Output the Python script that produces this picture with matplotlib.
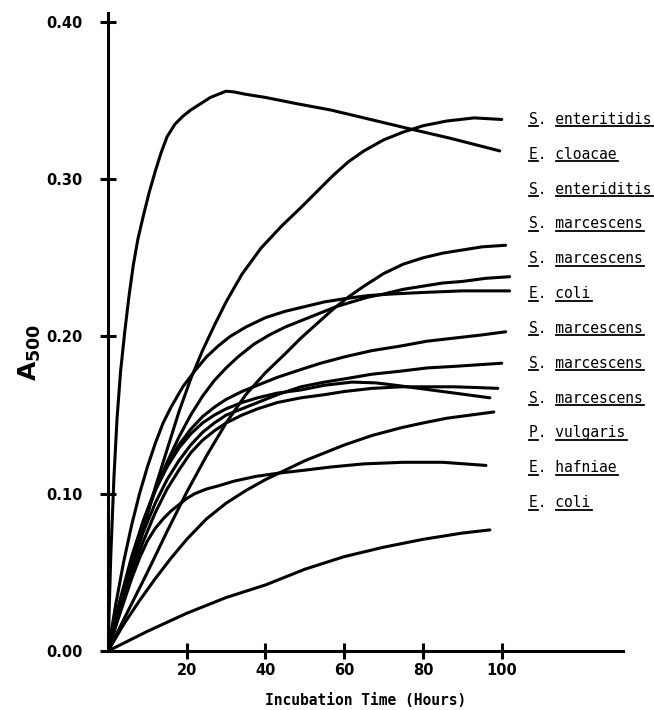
import matplotlib
matplotlib.use('Agg')
import matplotlib.pyplot as plt
from matplotlib.lines import Line2D

# growth curves (hours, A500)
t_peak = [0, 0.7, 1.5, 2.3, 3.2, 4.3, 5.3, 6.4, 7.6, 9, 10.5, 12, 13.5, 15, 17, 19, 21, 23.5,
          26, 28, 30, 32, 35, 40, 48, 56.6, 65, 75, 87, 99.5]
a_peak = [0, 0.06, 0.11, 0.148, 0.178, 0.204, 0.225, 0.245, 0.262, 0.277, 0.292, 0.305, 0.317,
          0.327, 0.335, 0.340, 0.344, 0.348, 0.352, 0.354, 0.356, 0.3555, 0.354, 0.352, 0.348,
          0.344, 0.339, 0.333, 0.326, 0.318]

t_cloacae = [0, 3, 6, 9, 12, 15, 18, 21, 24, 27, 30, 34, 38.8, 44, 49, 53, 57, 61, 65, 70, 75,
             80, 86, 93, 100]
a_cloacae = [0, 0.026, 0.052, 0.078, 0.104, 0.128, 0.152, 0.173, 0.191, 0.207, 0.222, 0.2395,
             0.256, 0.270, 0.282, 0.292, 0.302, 0.311, 0.318, 0.325, 0.330, 0.334, 0.337, 0.339,
             0.338]

t_c3 = [0, 5, 10, 15, 20, 25, 30, 35, 40, 45, 49, 53, 57, 61, 65, 70, 75, 80, 85, 90, 95, 101]
a_c3 = [0, 0.025, 0.050, 0.076, 0.101, 0.124, 0.145, 0.163, 0.177, 0.189, 0.199, 0.208, 0.217,
        0.225, 0.232, 0.240, 0.246, 0.250, 0.253, 0.255, 0.257, 0.258]

t_c4a = [0, 3, 6, 9, 12, 15, 18, 21, 24, 27, 30, 33, 37, 41, 45, 50, 54, 58, 62, 66, 70, 75, 80,
         85, 90, 96, 102]
a_c4a = [0, 0.03, 0.057, 0.081, 0.102, 0.120, 0.136, 0.150, 0.162, 0.172, 0.180, 0.187, 0.195,
         0.201, 0.206, 0.211, 0.215, 0.219, 0.222, 0.225, 0.227, 0.230, 0.232, 0.234, 0.235,
         0.237, 0.238]

t_c4b = [0, 2, 4, 6, 8, 10, 12, 14, 16, 19, 22, 25, 28, 31, 35, 40, 45, 50, 55, 60, 66, 72, 80,
         90, 102]
a_c4b = [0, 0.03, 0.057, 0.08, 0.10, 0.117, 0.132, 0.145, 0.155, 0.168, 0.178, 0.187, 0.194,
         0.200, 0.206, 0.212, 0.216, 0.219, 0.222, 0.224, 0.226, 0.227, 0.228, 0.229, 0.229]

t_c5 = [0, 3, 6, 9, 12, 15, 18, 21, 24, 27, 30, 34, 38, 43, 49, 54, 60, 67, 74.5, 81, 88, 95, 101]
a_c5 = [0, 0.03, 0.058, 0.083, 0.103, 0.118, 0.131, 0.141, 0.149, 0.155, 0.160, 0.165, 0.169,
        0.174, 0.179, 0.183, 0.187, 0.191, 0.194, 0.197, 0.199, 0.201, 0.203]

t_c6 = [0, 3, 6, 9, 12, 15, 18, 21, 24, 27, 30, 34, 38, 43, 49, 55, 60, 67, 74.5, 81, 88, 94, 100]
a_c6 = [0, 0.028, 0.054, 0.076, 0.094, 0.109, 0.121, 0.131, 0.139, 0.145, 0.150, 0.154, 0.158,
        0.163, 0.168, 0.171, 0.173, 0.176, 0.178, 0.180, 0.181, 0.182, 0.183]

t_c7a = [0, 3, 6, 9, 12, 15, 18, 21, 24, 27, 30, 34, 38, 43, 49, 55, 60, 67, 74.5, 81, 88, 94, 99]
a_c7a = [0, 0.025, 0.049, 0.07, 0.088, 0.103, 0.115, 0.126, 0.134, 0.140, 0.145, 0.150, 0.154,
         0.158, 0.161, 0.163, 0.165, 0.167, 0.168, 0.168, 0.168, 0.1675, 0.167]

t_c7b = [0, 3, 6, 9, 12, 15, 18, 21, 24, 27, 30, 34, 38, 43, 49, 55, 62, 68, 73, 79, 85, 91, 97]
a_c7b = [0, 0.032, 0.06, 0.083, 0.102, 0.117, 0.129, 0.138, 0.145, 0.150, 0.154, 0.158, 0.161,
         0.164, 0.166, 0.169, 0.171, 0.1705, 0.169, 0.167, 0.165, 0.163, 0.161]

t_vulgaris = [0, 4, 8, 12, 16, 20, 25, 30, 35, 40, 45, 50, 55, 60, 67, 74.5, 80, 86, 92, 98]
a_vulgaris = [0, 0.017, 0.032, 0.046, 0.059, 0.071, 0.084, 0.094, 0.102, 0.109, 0.115, 0.121,
              0.126, 0.131, 0.137, 0.142, 0.145, 0.148, 0.150, 0.152]

t_hafniae = [0, 2, 4, 6, 8, 10, 12, 14, 16, 18, 20, 22, 25, 28, 32, 37.5, 43, 50, 56.6, 65, 75,
             85, 96]
a_hafniae = [0, 0.016, 0.031, 0.046, 0.059, 0.07, 0.078, 0.084, 0.089, 0.093, 0.097, 0.100,
             0.103, 0.105, 0.108, 0.111, 0.113, 0.115, 0.117, 0.119, 0.120, 0.120, 0.118]

t_coli = [0, 10, 20, 30, 40, 50, 60, 70, 80, 90, 97]
a_coli = [0, 0.0125, 0.024, 0.034, 0.042, 0.052, 0.060, 0.066, 0.071, 0.075, 0.077]

curves = [
    (t_peak, a_peak), (t_cloacae, a_cloacae), (t_c3, a_c3), (t_c4a, a_c4a),
    (t_c4b, a_c4b), (t_c5, a_c5), (t_c6, a_c6), (t_c7a, a_c7a), (t_c7b, a_c7b),
    (t_vulgaris, a_vulgaris), (t_hafniae, a_hafniae), (t_coli, a_coli),
]

genus = ['S', 'E', 'S', 'S', 'S', 'E', 'S', 'S', 'S', 'P', 'E', 'E']
species = ['enteritidis', 'cloacae', 'enteriditis', 'marcescens', 'marcescens', 'coli',
           'marcescens', 'marcescens', 'marcescens', 'vulgaris', 'hafniae', 'coli']

x_ticks = [20, 40, 60, 80, 100]
y_ticks = [0.0, 0.1, 0.2, 0.3, 0.4]
y_tick_labels = ['0.00', '0.10', '0.20', '0.30', '0.40']

fig = plt.figure(figsize=(6.54, 7.10), dpi=100)
ax = fig.add_axes([108 / 654, 59 / 710, 515 / 654, 638 / 710])

for t, a in curves:
    ax.plot(t, a, color='black', lw=2.2, solid_joinstyle='round', solid_capstyle='round')

ax.set_xlim(0, 130.8)
ax.set_ylim(0, 0.4057)
ax.spines['top'].set_visible(False)
ax.spines['right'].set_visible(False)
ax.spines['left'].set_linewidth(2.2)
ax.spines['bottom'].set_linewidth(2.2)

ax.set_xticks(x_ticks)
ax.set_xticklabels([str(v) for v in x_ticks], fontweight='bold', fontsize=10.5)
ax.set_yticks(y_ticks)
ax.set_yticklabels(y_tick_labels, fontweight='bold', fontsize=10.5)
ax.tick_params(axis='both', direction='inout', length=11, width=2.2)
ax.tick_params(axis='x', pad=3)
ax.tick_params(axis='y', pad=13)

ax.set_xlabel('Incubation Time (Hours)', family='DejaVu Sans Mono', fontweight='bold',
              fontsize=10.5, labelpad=11)
fig.text(30 / 654, 1 - 352 / 710, r'$\mathbf{A}_{\mathbf{500}}$', rotation=90,
         ha='center', va='center', fontsize=18)

# species labels, stacked on the right
labels = []
for i, (g, s) in enumerate(zip(genus, species)):
    txt = ax.text(107, 0.338 - i * 0.02215, f'{g}. {s}', family='DejaVu Sans Mono',
                  fontsize=10.5, ha='left', va='center')
    labels.append(txt)

# underline genus letter and species name
fig.canvas.draw()
renderer = fig.canvas.get_renderer()
W, H = fig.bbox.width, fig.bbox.height
for txt in labels:
    bb = txt.get_window_extent(renderer)
    cw = bb.width / len(txt.get_text())
    yy = (bb.y0 + 0.5) / H
    for x0, x1 in [(bb.x0, bb.x0 + cw), (bb.x0 + 3 * cw, bb.x1 + 1)]:
        fig.add_artist(Line2D([x0 / W, x1 / W], [yy, yy], transform=fig.transFigure,
                              color='black', lw=1.3))

fig.savefig('out.png', dpi=100)
